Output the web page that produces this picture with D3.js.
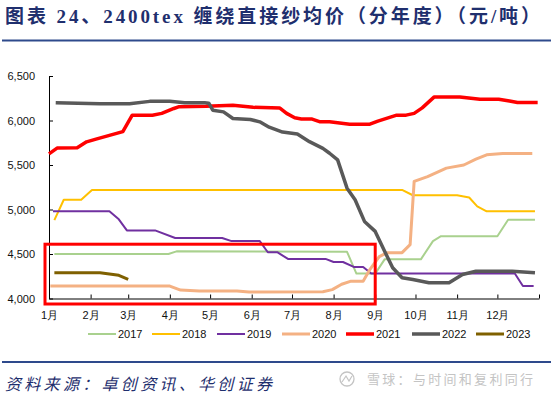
<!DOCTYPE html>
<html>
<head>
<meta charset="utf-8">
<script src="https://cdn.jsdelivr.net/npm/d3@7"></script>
<style>
  html, body { margin: 0; padding: 0; background: #fff; }
  svg { display: block; }
</style>
</head>
<body>
<div id="chart"></div>
<script>
// 各年份价格（元/吨），按拐点读取：[日期 MM-DD, 价格]
const s2017 = [["01-05",4500],["03-31",4500],["04-06",4530],["08-11",4525],["08-18",4280],["09-01",4280],
  ["09-08",4440],["10-05",4440],["10-14",4645],["10-20",4700],["12-01",4700],["12-09",4885],["12-29",4885]];
const s2018 = [["01-05",4880],["01-12",5110],["01-25",5110],["02-02",5220],["09-21",5220],["09-29",5160],
  ["11-01",5160],["11-10",5135],["11-16",5035],["11-23",4980],["12-29",4980]];
const s2019 = [["01-04",4980],["02-15",4980],["02-22",4890],["02-28",4765],["03-21",4765],["04-05",4680],
  ["05-10",4680],["05-17",4645],["06-07",4645],["06-13",4520],["06-20",4520],["06-28",4445],["07-26",4445],
  ["08-01",4410],["08-08",4410],["08-16",4355],["08-23",4355],["08-29",4280],["12-14",4280],["12-20",4140],["12-28",4140]];
const s2020 = [["01-02",4140],["04-01",4140],["04-09",4095],["04-23",4085],["05-21",4085],["05-30",4072],
  ["07-24",4075],["07-31",4100],["08-07",4160],["08-14",4195],["08-23",4195],["08-28",4325],["09-04",4470],
  ["09-10",4515],["09-21",4515],["09-27",4605],["09-30",5315],["10-10",5370],["10-24",5465],["11-06",5500],
  ["11-15",5565],["11-23",5615],["12-05",5630],["12-27",5630]];
const s2021 = [["01-01",5625],["01-07",5690],["01-22",5695],["01-29",5760],["02-05",5790],["02-25",5875],
  ["03-04",6060],["03-19",6060],["03-26",6080],["04-04",6135],["04-08",6155],["04-28",6160],["05-18",6172],
  ["06-02",6148],["06-22",6140],["06-27",6080],["07-03",6030],["07-08",6018],["07-16",6016],["07-22",5985],
  ["07-29",5985],["08-13",5958],["08-28",5958],["09-03",5993],["09-17",6060],["09-24",6060],["09-30",6080],
  ["10-06",6142],["10-15",6265],["11-03",6265],["11-18",6238],["12-02",6238],["12-10",6220],["12-16",6202],["12-31",6202]];
const s2022 = [["01-06",6200],["02-08",6187],["03-02",6187],["03-17",6215],["04-01",6215],["04-12",6200],
  ["04-27",6200],["04-30",6195],["05-03",6116],["05-11",6097],["05-18",6023],["05-31",6012],["06-07",5985],
  ["06-14",5925],["06-24",5870],["07-05",5848],["07-14",5762],["07-24",5687],["07-29",5632],["08-04",5557],
  ["08-11",5240],["08-17",5109],["08-24",4866],["09-01",4754],["09-08",4531],["09-14",4345],["09-21",4233],
  ["09-29",4214],["10-11",4177],["10-26",4177],["11-05",4270],["11-15",4307],["12-12",4307],["12-29",4289]];
const s2023 = [["01-05",4290],["02-08",4290],["02-22",4260],["03-01",4215]];

const years = ["2017","2018","2019","2020","2021","2022","2023"];
const seriesData = [s2017, s2018, s2019, s2020, s2021, s2022, s2023];
const colors = ["#A9D18E","#FFC000","#7030A0","#F4B183","#FF0000","#595959","#7F6000"];
const widths = [2, 2, 2, 3, 3.5, 3.5, 3];

const yTicks = [4000, 4500, 5000, 5500, 6000, 6500];
const monthLabels = ["1月","2月","3月","4月","5月","6月","7月","8月","9月","10月","11月","12月",""];

// 红框标注区域
const boxFrom = "01-01", boxTo = "09-01", boxLow = 4000, boxHigh = 4610;

const titleText = "图表 24、2400tex 缠绕直接纱均价（分年度）（元/吨）";
const sourceText = "资料来源：卓创资讯、华创证券";
const markText = "雪球：与时间和复利同行";

const W = 551, H = 395;
const navy = "#1F2F6E";
const parse = s => d3.timeParse("%Y-%m-%d")("2021-" + s);

const svg = d3.select("#chart").append("svg")
  .attr("width", W).attr("height", H);

// 标题
svg.append("text")
  .attr("x", 5).attr("y", 23)
  .attr("textLength", 535).attr("lengthAdjust", "spacing")
  .style("font-family", "'Liberation Serif', 'Noto Sans CJK SC', serif")
  .style("font-weight", "bold").style("font-size", "19px")
  .attr("fill", navy)
  .text(titleText);

svg.append("line").attr("x1", 2).attr("x2", W).attr("y1", 40.5).attr("y2", 40.5)
  .attr("stroke", "#2E4A8C").attr("stroke-width", 2);

const x = d3.scaleTime()
  .domain([new Date(2021, 0, 1), new Date(2022, 0, 1)])
  .range([49, 539]);

const y = d3.scaleLinear()
  .domain([4000, 6500])
  .range([298.5, 76]);

const axisFont = "'Liberation Sans', Arial, sans-serif";

const yAxis = svg.append("g")
  .attr("transform", `translate(${x.range()[0]},0)`)
  .call(d3.axisLeft(y).tickValues(yTicks).tickFormat(d3.format(","))
    .tickSizeInner(-4).tickSizeOuter(0).tickPadding(14));

const monthTicks = d3.range(13).map(m => new Date(2021, m, 1));
const xAxis = svg.append("g")
  .attr("transform", `translate(0,${y(4000)})`)
  .call(d3.axisBottom(x).tickValues(monthTicks).tickFormat((d, i) => monthLabels[i])
    .tickSizeInner(-4).tickSizeOuter(0).tickPadding(13));

[yAxis, xAxis].forEach(g => {
  g.select(".domain").attr("stroke", "#000").attr("stroke-width", 1);
  g.selectAll(".tick line").attr("stroke", "#000");
  g.selectAll("text").style("font-family", axisFont).style("font-size", "11px").attr("fill", "#111");
});

const line = d3.line()
  .x(d => x(parse(d[0])))
  .y(d => y(d[1]));

seriesData.forEach((data, i) => {
  svg.append("path")
    .datum(data)
    .attr("fill", "none")
    .attr("stroke", colors[i])
    .attr("stroke-width", widths[i])
    .attr("stroke-linejoin", "round")
    .attr("d", line);
});

// 红框
svg.append("rect")
  .attr("x", x(parse(boxFrom)) - 4)
  .attr("y", y(boxHigh))
  .attr("width", x(parse(boxTo)) - x(parse(boxFrom)) + 4)
  .attr("height", y(boxLow) - y(boxHigh) + 5.5)
  .attr("fill", "none")
  .attr("stroke", "#FF0000")
  .attr("stroke-width", 3);

// 图例
const legendX = [88, 152, 217, 282, 346, 412, 476];
const legend = svg.append("g").attr("transform", "translate(0,334)");
years.forEach((yr, i) => {
  legend.append("line")
    .attr("x1", legendX[i]).attr("x2", legendX[i] + 28)
    .attr("stroke", colors[i]).attr("stroke-width", widths[i]);
  legend.append("text")
    .attr("x", legendX[i] + 30).attr("dy", "0.36em")
    .style("font-family", axisFont).style("font-size", "11px")
    .attr("fill", "#111")
    .text(yr);
});

svg.append("line").attr("x1", 2).attr("x2", W).attr("y1", 362).attr("y2", 362)
  .attr("stroke", "#2E4A8C").attr("stroke-width", 2);

// 资料来源
svg.append("text")
  .attr("x", 5).attr("y", 390)
  .attr("textLength", 267).attr("lengthAdjust", "spacing")
  .style("font-family", "'Noto Sans CJK SC', sans-serif")
  .style("font-style", "italic").style("font-size", "16px")
  .attr("fill", navy)
  .text(sourceText);

// 水印
const mark = svg.append("g").attr("fill", "none").attr("stroke", "#c4c4c4");
mark.append("circle").attr("cx", 347).attr("cy", 379).attr("r", 7).attr("stroke-width", 1.3);
mark.append("path").attr("d", "M342,382 L346,376 L349,381 L352,376").attr("stroke-width", 1.2);
svg.append("text")
  .attr("x", 367).attr("y", 383.5)
  .attr("textLength", 166).attr("lengthAdjust", "spacing")
  .style("font-family", "'Noto Sans CJK SC', sans-serif")
  .style("font-size", "13px")
  .attr("fill", "#c4c4c4")
  .text(markText);
</script>
</body>
</html>
